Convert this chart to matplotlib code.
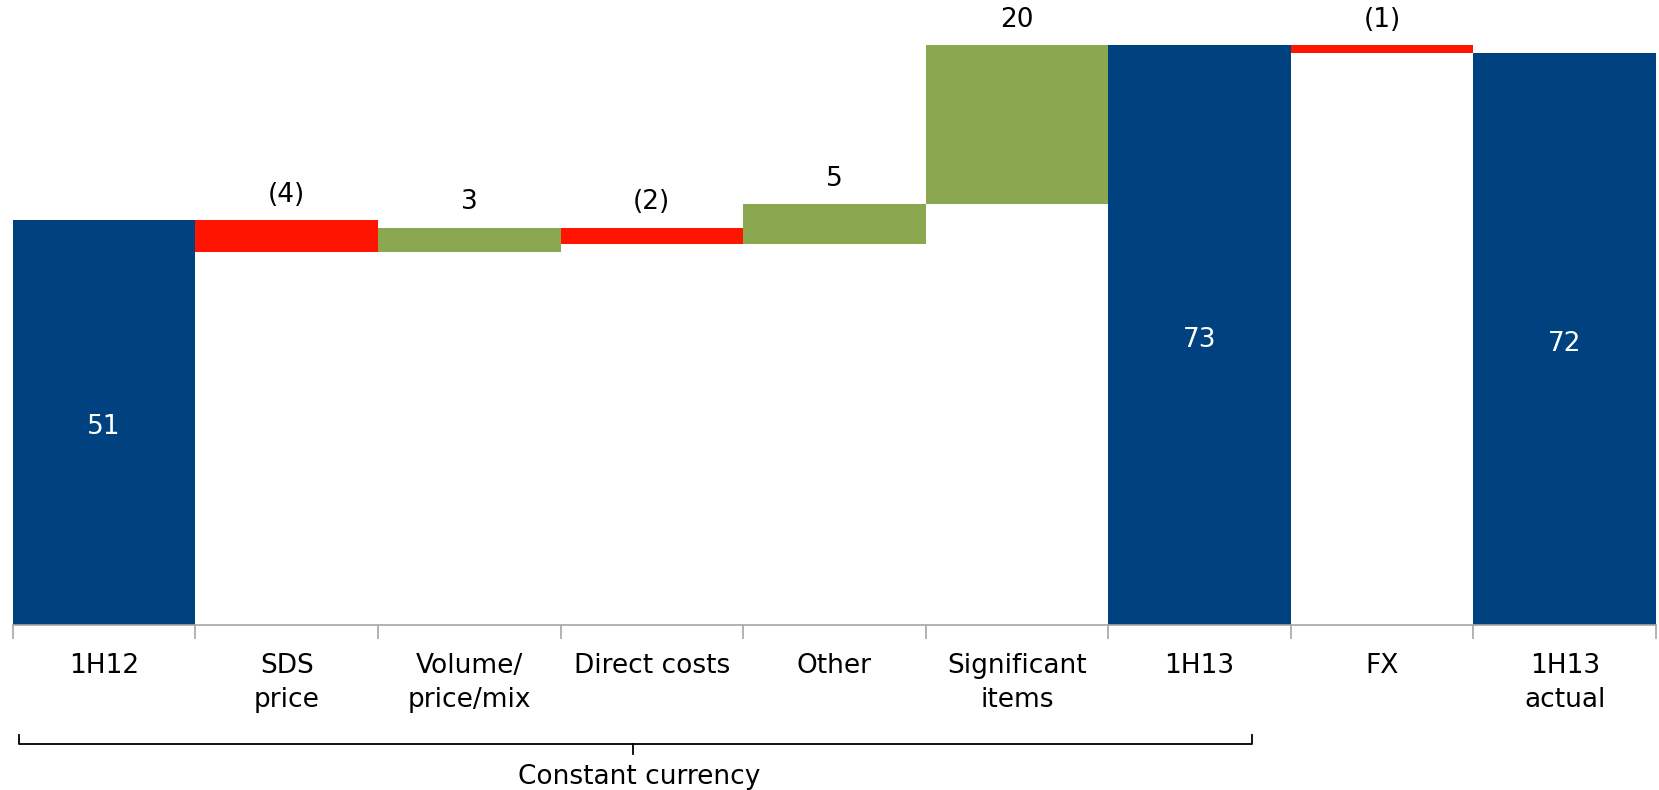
import numpy as np
import matplotlib
matplotlib.use('Agg')
from matplotlib import pyplot as plt

categories = ['1H12', 'SDS\nprice', 'Volume/\nprice/mix', 'Direct costs', 'Other',
              'Significant\nitems', '1H13', 'FX', '1H13\nactual']
values = [51, -4, 3, -2, 5, 20, 73, -1, 72]
kinds = ['total', 'delta', 'delta', 'delta', 'delta', 'delta', 'total', 'delta', 'total']
labels = ['51', '(4)', '3', '(2)', '5', '20', '73', '(1)', '72']

navy = '#00427f'
red = '#ff1400'
green = '#8ba74f'
fs = 19

fig = plt.figure(figsize=(16.59, 7.90), dpi=100)
ax = fig.add_axes([0.0077, 0.2089, 0.9905, 0.7911])

x = np.arange(len(categories))
running = 0
for i, (v, k, lab) in enumerate(zip(values, kinds, labels)):
    if k == 'total':
        ax.bar(i, v, width=1.0, color=navy, edgecolor='none')
        ax.text(i, v / 2 - 0.6, lab, color='white', ha='center', va='center', fontsize=fs)
        running = v
    else:
        start = running
        end = running + v
        ax.bar(i, end - start, bottom=start, width=1.0,
               color=green if v > 0 else red, edgecolor='none')
        top = max(start, end)
        ax.text(i, top + 3.2, lab, color='black', ha='center', va='center', fontsize=fs)
        running = end

ax.set_xlim(-0.5, len(categories) - 0.5)
ax.set_ylim(0, 78.7)
ax.set_yticks([])
for s in ['top', 'left', 'right']:
    ax.spines[s].set_visible(False)
ax.spines['bottom'].set_color('#a6a6a6')
ax.spines['bottom'].set_linewidth(1.2)

ax.set_xticks(x)
ax.set_xticklabels(categories, fontsize=fs, linespacing=1.4)
ax.tick_params(axis='x', which='major', length=0, pad=20)
ax.set_xticks(np.arange(-0.5, len(categories)), minor=True)
ax.tick_params(axis='x', which='minor', length=10, color='#a6a6a6', width=1.2)

# brace under the constant currency group
tr = ax.get_xaxis_transform()
bx0, bx1, bmid = -0.465, 6.286, 2.896
ax.plot([bx0, bx0, bx1, bx1], [-0.176, -0.190, -0.190, -0.176], color='black',
        lw=1.3, transform=tr, clip_on=False)
ax.plot([bmid, bmid], [-0.190, -0.206], color='black', lw=1.3, transform=tr, clip_on=False)
ax.text(2.93, -0.243, 'Constant currency', ha='center', va='center', fontsize=fs,
        transform=tr)

fig.savefig('out.png', dpi=100)
